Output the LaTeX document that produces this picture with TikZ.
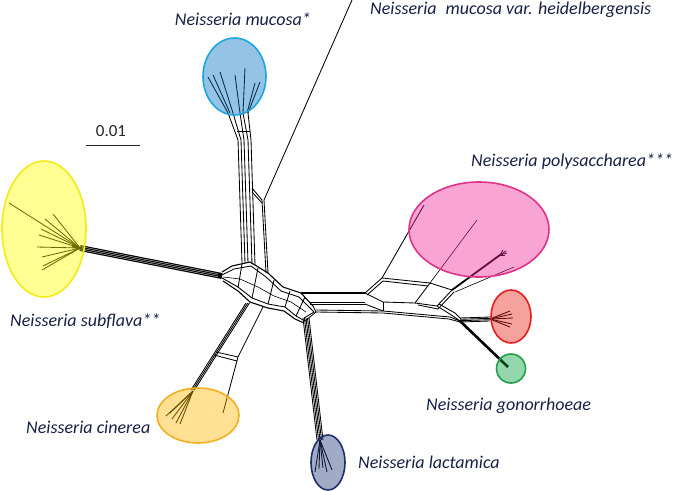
\documentclass[tikz,border=0pt]{standalone}
\usepackage{fontspec}
\setmainfont{Carlito}
\definecolor{txt}{RGB}{24,32,70}
\definecolor{yelS}{RGB}{245,235,20}
\definecolor{yelF}{RGB}{255,255,0}
\definecolor{bluS}{RGB}{30,165,225}
\definecolor{bluF}{RGB}{0,112,192}
\definecolor{pinS}{RGB}{224,51,138}
\definecolor{pinF}{RGB}{240,40,150}
\definecolor{redS}{RGB}{230,30,30}
\definecolor{redF}{RGB}{230,30,20}
\definecolor{greS}{RGB}{33,160,74}
\definecolor{greF}{RGB}{0,160,60}
\definecolor{oraS}{RGB}{240,176,32}
\definecolor{oraF}{RGB}{255,180,0}
\definecolor{navS}{RGB}{31,47,107}
\definecolor{navF}{RGB}{31,56,120}
\begin{document}
\begin{tikzpicture}[x=1pt,y=-1pt,
  br/.style={line width=0.85pt,black},
  tb/.style={line width=0.6pt,black},
  blob/.style={line width=1.6pt,fill opacity=0.42},
  lab/.style={inner sep=0pt,anchor=base west,font=\fontsize{18}{20}\selectfont\itshape,text=txt}]
\useasboundingbox (0,0) rectangle (680,490);

% ---------- yellow branch (subflava) ----------
\draw[line width=6pt] (80,248) -- (222,276);
\foreach \o in {-1.6,0,1.6}
  \draw[white,line width=0.3pt] ([yshift=\o pt]82,248.4) -- ([yshift=\o pt]218,275.2);
\foreach \t in {{9,203},{53,214},{45,219},{41,229},{39,235},{37,247},{42,257},{43,266},{42,270}}
  \draw[br] (80,248) -- (\t);
\draw[line width=2pt] (72,246) -- (84,250);

% ---------- central strip ----------
\draw[br,line width=1.1pt] (222,272) -- (232,266) -- (250,262) -- (268,273) -- (283,287) -- (301,293) -- (313,306);
\draw[br] (222,275) -- (234,269) -- (251,266) -- (266,277) -- (281,291) -- (299,297) -- (311,309);
\draw[tb] (223,277) -- (240,279) -- (258,287) -- (274,296) -- (291,302) -- (306,312);
\draw[br] (222,278) -- (238,287) -- (252,298) -- (268,304) -- (285,307) -- (296,316) -- (305,321);
\draw[br,line width=1.1pt] (223,281) -- (238,291) -- (250,302) -- (268,308) -- (284,311) -- (295,319) -- (304,323);
\draw[br] (313,306) -- (316,312) -- (305,321);
\draw[br] (311,309) -- (314,312) -- (304,318);
\foreach \a/\b in {{242,264}/{238,288},{258,268}/{252,298},{274,280}/{268,304},{290,291}/{285,307},{305,297}/{296,316}}
  \draw[br] (\a) -- (\b);

% ---------- horizontal bundle to the right ----------
\draw[line width=1.3pt] (301,293) -- (365,293);
\draw[br] (310,302) -- (365,302);
\draw[br] (310,304) -- (365,304);
\draw[br] (316,310) -- (383,311) -- (450,317) -- (460,321);
\draw[br] (316,312) -- (383,313) -- (449,319) -- (460,322);

% ---------- right boxes ----------
\draw[br] (365,293) -- (382,278) -- (430,283) -- (452,290);
\draw[br] (367,295) -- (383,281) -- (428,286);
\draw[br] (365,293) -- (383,302) -- (415,303) -- (430,283);
\draw[br] (365,304) -- (383,311);
\draw[br] (415,303) -- (437,306) -- (452,290);
\draw[br] (418,305) -- (438,309) -- (454,292);
\draw[br] (437,306) -- (453,316) -- (460,321);
\draw[br] (439,304) -- (455,313) -- (461,319);
\draw[br] (383,302) -- (383,311);

% ---------- polysaccharea ----------
\draw[br] (382,278) -- (424,205);
\draw[tb] (430,283) -- (477,220);
\draw[line width=1.8pt] (452,290) -- (500,255);
\foreach \t in {{503,250},{506,251},{507,253},{505,255}}
  \draw[br] (500,255) -- (\t);
\draw[tb] (455,292) -- (514,267);

% ---------- red / green ----------
\foreach \o in {-2,-0.7,0.7,2}
  \draw[br] ([yshift=\o pt]460,320) -- ([yshift=\o pt]490,319);
\foreach \t in {{510,311},{512,314},{513,318},{512,324},{510,327}}
  \draw[br] (490,319) -- (\t);
\draw[line width=2.6pt] (460,321) -- (508,367);

% ---------- lactamica ----------
\foreach \o in {0,1.5,3,4.5,6}
  \draw[br] ([xshift=\o pt]303,318) -- ([xshift=\o pt]317,440);
\foreach \t in {{315,472},{319,469},{323,468},{327,472},{332,470}}
  \draw[br] (320,440) -- (\t);

% ---------- cinerea ----------
\foreach \o in {0,1.7,3.4}
  \draw[br] ([xshift=\o pt]246,303) -- ([xshift=\o pt]191,390);
\draw[br] (263,307) -- (238,357) -- (223,413);
\draw[br] (216,352) -- (238,357);
\draw[br] (214,355) -- (237,361);
\foreach \t in {{166,416},{170,413},{172,419},{176,423},{180,424}}
  \draw[br] (193,391) -- (\t);

% ---------- mucosa ----------
\foreach \a/\b in {{238,140}/{242,263},{241,140}/{245,263},{244,140}/{248,263},{248,140}/{252,264},{251,140}/{255,265}}
  \draw[br] (\a) -- (\b);
\draw[br] (262,200) -- (266,273);
\draw[br] (264,200) -- (268,273);
\draw[br] (252,188) -- (262,200);
\draw[br] (252,192) -- (262,203);
\draw[br] (264,200) -- (352,0);
\foreach \a/\b in {{228,113}/{238,140},{233,113}/{241,140},{240,113}/{244,140},{243,113}/{248,140},{248,113}/{251,140}}
  \draw[br] (\a) -- (\b);
\draw[br] (237,131) -- (250,131);
\foreach \a/\b in {{208,77}/{228,113},{213,75}/{230,113},{220,72}/{233,113},{235,75}/{240,113},{245,68}/{243,113},{255,83}/{247,113},{260,82}/{248,113}}
  \draw[br] (\a) -- (\b);

% ---------- ellipses ----------
\draw[blob,draw=bluS,fill=bluF] (234.5,76.5) ellipse [x radius=31.5pt, y radius=38.5pt];
\draw[blob,draw=yelS,fill=yelF] (44,229) ellipse [x radius=42pt, y radius=68pt];
\draw[blob,draw=pinS,fill=pinF] (479,229.5) ellipse [x radius=70pt, y radius=47.5pt];
\draw[blob,draw=redS,fill=redF] (511,316.5) ellipse [x radius=20pt, y radius=26.5pt];
\draw[blob,draw=greS,fill=greF] (511,368.5) circle [radius=14.5pt];
\draw[blob,draw=oraS,fill=oraF] (198,415.5) ellipse [x radius=41pt, y radius=27.5pt];
\draw[blob,draw=navS,fill=navF] (328,462.5) ellipse [x radius=17pt, y radius=27.5pt];

% ---------- scale ----------
\node[inner sep=0pt,font=\fontsize{17}{18}\selectfont,text=black!85] (sc) at (111,131) {0.01};
\draw[line width=0.8pt,black!85] (86,145) -- (140,145);

% ---------- labels ----------
\node[lab,anchor=base east] (lmuc) at (311,25) {Neisseria mucosa*};
\node[lab] (lhei) at (370,14) {Neisseria\hspace{9pt}mucosa var. heidelbergensis};
\node[lab] (lpol) at (471,166) {Neisseria polysaccharea***};
\node[lab] (lsub) at (10,326) {Neisseria subflava**};
\node[lab] (lgon) at (426,410) {Neisseria gonorrhoeae};
\node[lab] (lcin) at (26,433) {Neisseria cinerea};
\node[lab] (llac) at (358,468) {Neisseria lactamica};
\end{tikzpicture}
\end{document}
